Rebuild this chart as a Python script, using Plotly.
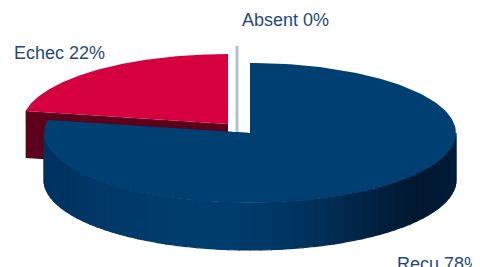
import numpy as np
import plotly.graph_objects as go

# ---- data ----
labels = ["Recu", "Echec", "Absent"]
values = [78, 22, 0]

# ---- style / geometry (pixel space of the 480x267 window) ----
W, H = 480, 267
PAGE_MARGIN = 8            # default body margin of the html page
CX, CY = 250, 133          # pie centre
RX, RY = 206, 70           # ellipse radii of top face
DEPTH = 47                 # thickness
offsets = {"Recu": (0, 0), "Echec": (-22, -9), "Absent": (-13, -17)}
top_colors = {"Recu": "rgb(0,63,114)", "Echec": "rgb(214,0,64)", "Absent": "rgb(175,190,212)"}
side_colors = {"Recu": "rgb(0,45,85)", "Echec": "rgb(92,0,28)", "Absent": "rgb(120,135,160)"}
# (x, y, anchor)
label_pos = {"Echec": (12, 53, "left"), "Absent": (240, 20, "left"), "Recu": (395, 264, "left")}
TEXT_COLOR = "rgb(31,73,125)"

def pt(cx, cy, th, dy=0):
    t = np.radians(th)
    return cx + RX * np.sin(t), cy - RY * np.cos(t) + dy

total = sum(values)
angles = {}
a = 0.0
for lab, v in zip(labels, values):
    span = 360.0 * v / total
    angles[lab] = (a, a + span)
    a += span

fig = go.Figure()

def poly(xs, ys, color, lw=0):
    fig.add_trace(go.Scatter(
        x=list(xs) + [xs[0]], y=list(ys) + [ys[0]], mode="lines", fill="toself",
        fillcolor=color, line=dict(color=color, width=lw),
        hoverinfo="skip", showlegend=False))

def side_gradient_color(x):
    stops_x = [40, 120, 220, 300, 380, 420, 460]
    g = [50, 58, 62, 52, 32, 24, 30]
    b = [95, 106, 112, 96, 62, 48, 58]
    return "rgb(0,%d,%d)" % (np.interp(x, stops_x, g), np.interp(x, stops_x, b))

# draw order: back slices first
for lab in ["Absent", "Echec", "Recu"]:
    a0, a1 = angles[lab]
    dx, dy = offsets[lab]
    cx, cy = CX + dx, CY + dy
    if a1 - a0 < 1e-6:
        # zero slice: only the radial wall, seen edge-on
        x0, y0 = pt(cx, cy, a0)
        fig.add_trace(go.Scatter(x=[x0, x0], y=[y0, cy + DEPTH], mode="lines",
                                 line=dict(color=top_colors[lab], width=3),
                                 hoverinfo="skip", showlegend=False))
        continue
    for th in (a0, a1):
        ox, oy = pt(cx, cy, th)
        poly([cx, ox, ox, cx], [cy, oy, oy + DEPTH, cy + DEPTH], side_colors[lab])
    lo, hi = max(a0, 90), min(a1, 270)
    if hi > lo:
        n = 60
        ths = np.linspace(lo, hi, n + 1)
        for i in range(n):
            t0, t1 = ths[i], ths[i + 1]
            x0, y0 = pt(cx, cy, t0)
            x1, y1 = pt(cx, cy, t1)
            poly([x0, x1, x1, x0], [y0, y1, y1 + DEPTH, y0 + DEPTH],
                 side_gradient_color((x0 + x1) / 2), lw=1.2)
    ths = np.linspace(a0, a1, 200)
    xs = [cx] + [pt(cx, cy, t)[0] for t in ths]
    ys = [cy] + [pt(cx, cy, t)[1] for t in ths]
    poly(xs, ys, top_colors[lab])

for lab, v in zip(labels, values):
    x, y, anc = label_pos[lab]
    fig.add_annotation(x=x, y=y, xref="x", yref="y", text=f"{lab} {v}%",
                       showarrow=False, xanchor=anc, yanchor="middle",
                       font=dict(family="Liberation Sans, Arial", size=18, color=TEXT_COLOR))

fig.update_xaxes(range=[PAGE_MARGIN, W], visible=False, fixedrange=True)
fig.update_yaxes(range=[H, PAGE_MARGIN], visible=False, fixedrange=True)
fig.update_layout(width=W - PAGE_MARGIN, height=H - PAGE_MARGIN,
                  margin=dict(l=0, r=0, t=0, b=0),
                  paper_bgcolor="white", plot_bgcolor="white", showlegend=False)

fig.write_html("out.html", config={"displayModeBar": False})
